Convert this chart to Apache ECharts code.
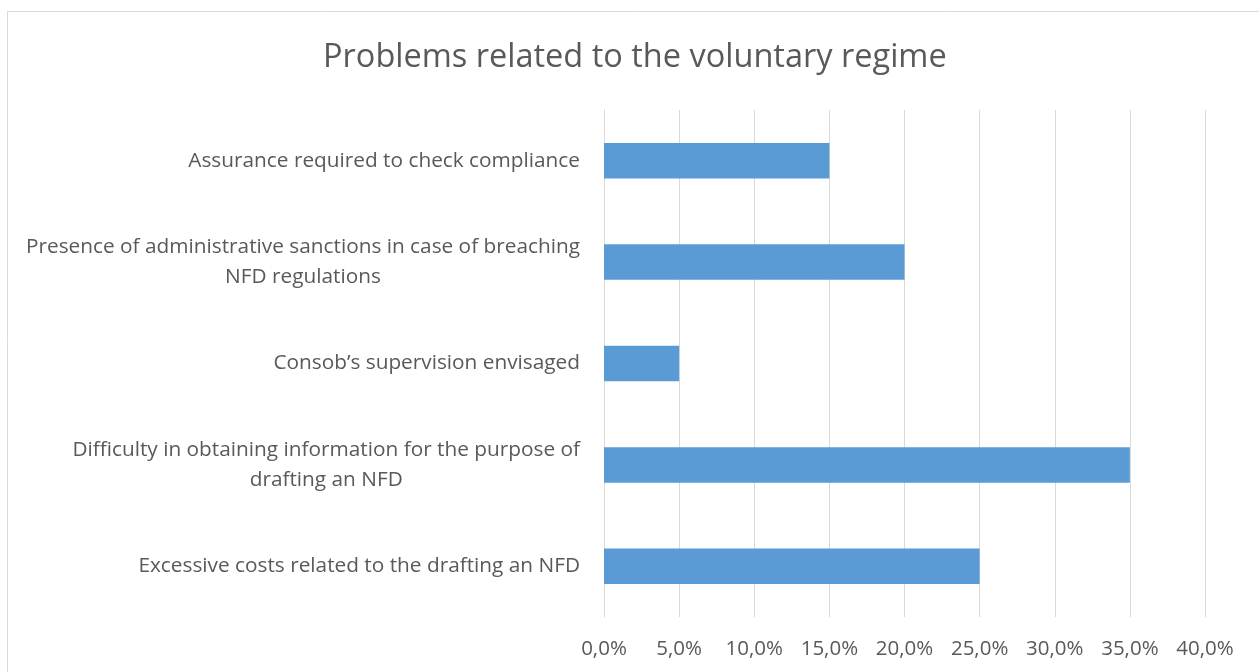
<!DOCTYPE html>
<html>
<head>
<meta charset="utf-8">
<script src="https://cdn.jsdelivr.net/npm/echarts@6/dist/echarts.min.js"></script>
<style>
  html, body { margin: 0; padding: 0; background: #fff; }
  #chart { width: 1259px; height: 672px; }
</style>
</head>
<body>
<div id="chart"></div>
<script>
// categories listed bottom -> top (category axis on y starts at the bottom)
const categories = [
  'Excessive costs related to the drafting an NFD',
  'Difficulty in obtaining information for the purpose of\ndrafting an NFD',
  'Consob\u2019s supervision envisaged',
  'Presence of administrative sanctions in case of breaching\nNFD regulations',
  'Assurance required to check compliance'
];
const shares = [25, 35, 5, 20, 15];
const xTicks = { min: 0, max: 40, interval: 5 };

const FONT = 'Open Sans';
const TEXT = '#595959';

const chart = echarts.init(document.getElementById('chart'));
chart.setOption({
  animation: false,
  backgroundColor: '#fff',
  graphic: [{
    type: 'rect',
    shape: { x: 7.5, y: 11.5, width: 1300, height: 700 },
    style: { fill: 'none', stroke: '#d9d9d9', lineWidth: 1 },
    silent: true
  }],
  title: {
    text: 'Problems related to the voluntary regime',
    left: 318,
    top: 36,
    textStyle: { fontFamily: FONT, fontSize: 32.5, fontWeight: 'normal', color: TEXT }
  },
  grid: { left: 604, right: 54, top: 110, bottom: 55 },
  xAxis: {
    type: 'value',
    min: xTicks.min,
    max: xTicks.max,
    interval: xTicks.interval,
    axisLine: { show: false },
    axisTick: { show: false },
    splitLine: { lineStyle: { color: '#d9d9d9', width: 1 } },
    axisLabel: {
      margin: 22,
      fontFamily: FONT,
      fontSize: 20.5,
      color: TEXT,
      formatter: v => v.toFixed(1).replace('.', ',') + '%'
    }
  },
  yAxis: {
    type: 'category',
    data: categories,
    axisLine: { show: true, lineStyle: { color: '#d9d9d9' } },
    axisTick: { show: false },
    axisLabel: {
      margin: 24,
      formatter: v => v.split('\n').map(s => '{c|' + s + '}').join('\n'),
      rich: {
        c: { align: 'center', fontFamily: FONT, fontSize: 20.8, color: TEXT, lineHeight: 30 }
      }
    }
  },
  series: [{
    type: 'bar',
    data: shares,
    barWidth: '35%',
    itemStyle: { color: '#5b9bd5' }
  }]
});
</script>
</body>
</html>
